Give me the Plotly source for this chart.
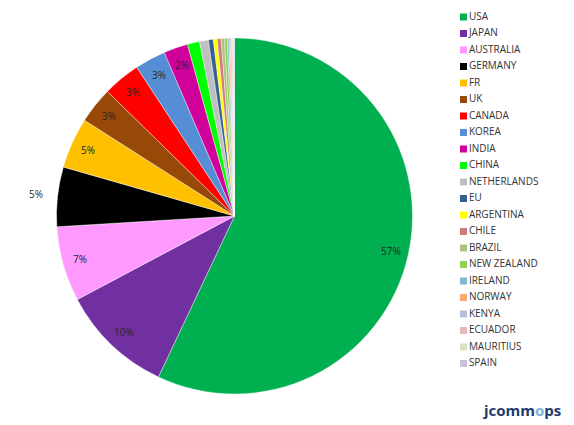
import math
import plotly.graph_objects as go

countries = ["USA", "JAPAN", "AUSTRALIA", "GERMANY", "FR", "UK", "CANADA", "KOREA",
             "INDIA", "CHINA", "NETHERLANDS", "EU", "ARGENTINA", "CHILE", "BRAZIL",
             "NEW ZEALAND", "IRELAND", "NORWAY", "KENYA", "ECUADOR", "MAURITIUS", "SPAIN"]
shares = [57.0, 10.2, 6.8, 5.4, 4.6, 3.3, 3.4, 2.8, 2.2, 1.1, 0.8, 0.45, 0.35, 0.35,
          0.3, 0.25, 0.15, 0.12, 0.12, 0.1, 0.08, 0.08]
colors = ["#00B050", "#7030A0", "#FF99FF", "#000000", "#FFC000", "#984807", "#FF0000",
          "#558ED5", "#D0009A", "#00FF00", "#C0C0C0", "#376092", "#FFFF00", "#D07A7A",
          "#A9C47F", "#92D050", "#7FB8CF", "#FAA873", "#B3BFDC", "#E6B9B8", "#D7E4BD",
          "#CCC1DA"]

W, H = 574, 425
cx, cy, r = 234.5, 216, 178

fig = go.Figure()
fig.add_trace(go.Pie(
    labels=countries, values=shares, sort=False, direction="clockwise", rotation=0,
    marker=dict(colors=colors, line=dict(color="white", width=0.4)),
    textinfo="none", showlegend=False, hoverinfo="label+percent",
    domain=dict(x=[(cx - r) / W, (cx + r) / W], y=[(H - cy - r) / H, (H - cy + r) / H]),
))

# Percentage labels placed along each slice's mid-angle (Excel-like placement)
total = sum(shares)
annotations = []
cum = 0.0
for c, v in zip(countries, shares):
    p = v / total * 100
    mid = math.radians(360 * (cum + v / 2) / total)
    cum += v
    if p < 1.5:
        continue
    k = 1.12 if c == "GERMANY" else 0.9
    px = cx + k * r * math.sin(mid)
    py = cy - k * r * math.cos(mid)
    annotations.append(dict(
        text=f"{round(p)}%", xref="paper", yref="paper", x=px / W, y=(H - py) / H,
        xanchor="center", yanchor="middle", showarrow=False,
        font=dict(family="Open Sans", size=10, color="#262626"),
    ))

# Legend as a scatter on hidden axes
row0, step = 17, 16.5
idx = list(range(len(countries)))
fig.add_trace(go.Scatter(
    x=[23.5] * len(countries), y=idx, mode="markers+text",
    marker=dict(symbol="square", size=7, color=colors, line=dict(width=0)),
    text=countries, textposition="middle right",
    textfont=dict(family="Open Sans", size=10, color="#333333"),
    cliponaxis=False, showlegend=False, hoverinfo="skip",
))

annotations.append(dict(
    text="<b>jcomm<span style='color:#7FB2D9'>o</span>ps</b>",
    xref="paper", yref="paper", x=481 / W, y=(H - 410) / H,
    xanchor="left", yanchor="middle", showarrow=False,
    font=dict(family="Open Sans", size=15, color="#1F3B6E"),
))

fig.update_layout(
    width=W, height=H, margin=dict(l=0, r=0, t=0, b=0),
    paper_bgcolor="white", plot_bgcolor="rgba(0,0,0,0)",
    xaxis=dict(domain=[440 / W, 1], range=[0, 134], visible=False, fixedrange=True),
    yaxis=dict(domain=[0, 1], range=[(H - row0) / step, -row0 / step],
               visible=False, fixedrange=True),
    annotations=annotations,
)

fig.write_html("out.html", config={"displayModeBar": False},
               post_script="document.body.style.margin='0';")
